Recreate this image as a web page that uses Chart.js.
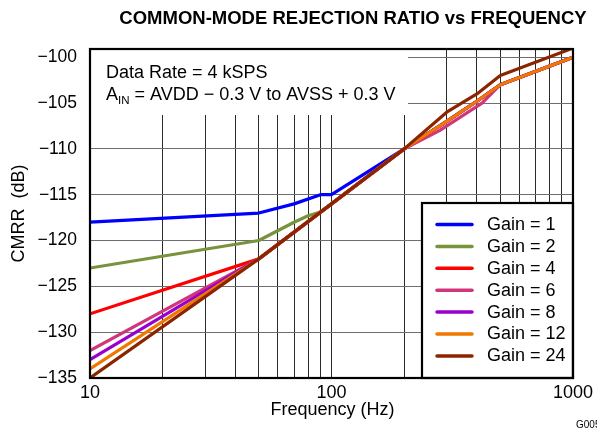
<!DOCTYPE html>
<html>
<head>
<meta charset="utf-8">
<script src="https://cdn.jsdelivr.net/npm/chart.js@4.4.1/dist/chart.umd.min.js"></script>
<style>
  html, body { margin: 0; padding: 0; background: #ffffff; }
  #wrap { position: relative; width: 597px; height: 431px; }
</style>
</head>
<body>
<div id="wrap"><canvas id="c" width="597" height="431"></canvas></div>
<script>
// ---------- data ----------
const seriesNames = ["Gain = 1", "Gain = 2", "Gain = 4", "Gain = 6", "Gain = 8", "Gain = 12", "Gain = 24"];
const seriesColors = ["#0000FF", "#77933C", "#FF0000", "#D0367A", "#9900CC", "#F07800", "#8B2500"];

const gain1Freq = [10, 50, 70, 90, 100, 200, 300, 400, 500, 1000];
const gain1Cmrr = [-118, -117, -116, -115, -115, -110, -107, -104.8, -103, -100];

const gain2Freq = [10, 50, 70, 80, 90, 100, 200, 300, 400, 500, 1000];
const gain2Cmrr = [-123, -120, -118, -117.3, -116.9, -116, -110, -107, -104.8, -103, -100];

const gain4Freq = [10, 50, 100, 200, 300, 400, 500, 1000];
const gain4Cmrr = [-128, -122, -116, -110, -107, -104.8, -103, -100];

const gain6Freq = [10, 50, 100, 200, 280, 420, 500, 1000];
const gain6Cmrr = [-132, -122, -116, -110, -108, -105, -103, -100];

const gain8Freq = [10, 50, 100, 200, 300, 400, 500, 1000];
const gain8Cmrr = [-133, -122, -116, -110, -107, -104.8, -103, -100];

const gain12Freq = [10, 50, 100, 200, 300, 400, 500, 1000];
const gain12Cmrr = [-134, -122, -116, -110, -107, -104.8, -103, -100];

const gain24Freq = [10, 50, 100, 200, 300, 400, 500, 1000];
const gain24Cmrr = [-135, -122, -116, -110, -106, -104, -102, -99];

const xTickLabels = [10, 100, 1000];
const yTickValues = [-135, -130, -125, -120, -115, -110, -105, -100];

const titleText = "COMMON-MODE REJECTION RATIO vs FREQUENCY";
const xTitleText = "Frequency (Hz)";
const yTitleText = "CMRR  (dB)";
const noteLine1 = "Data Rate = 4 kSPS";
const noteLine2a = "A";
const noteLine2sub = "IN";
const noteLine2b = " = AVDD \u2212 0.3 V to AVSS + 0.3 V";
const figureId = "G005";

// ---------- build datasets ----------
const freqs = [gain1Freq, gain2Freq, gain4Freq, gain6Freq, gain8Freq, gain12Freq, gain24Freq];
const vals  = [gain1Cmrr, gain2Cmrr, gain4Cmrr, gain6Cmrr, gain8Cmrr, gain12Cmrr, gain24Cmrr];
const drawOrder = [6, 5, 4, 3, 2, 1, 0]; // lower = drawn on top (Gain = 24 on top)

const datasets = seriesNames.map((name, i) => ({
  label: name,
  data: freqs[i].map((f, j) => ({ x: f, y: vals[i][j] })),
  borderColor: seriesColors[i],
  backgroundColor: seriesColors[i],
  borderWidth: 3.2,
  pointRadius: 0,
  tension: 0,
  fill: false,
  order: drawOrder[i],
  borderJoinStyle: 'round'
}));

// gridline frequencies for the log axis (decade subdivisions)
const xGrid = [];
for (let d = 10; d < 1000; d *= 10) for (let k = 1; k < 10; k++) xGrid.push(k * d);
xGrid.push(1000);

const FONT = "'Liberation Sans', Arial, Helvetica, sans-serif";

const decor = {
  id: 'decor',
  beforeDatasetsDraw(chart) {
    const ctx = chart.ctx;
    const a = chart.chartArea;
    ctx.save();
    ctx.fillStyle = '#ffffff';
    ctx.fillRect(a.left, a.top, 408 - a.left, 115 - a.top);
    ctx.fillRect(422, 203, a.right - 422, a.bottom - 203);
    ctx.restore();
  },
  afterDraw(chart) {
    const ctx = chart.ctx;
    const a = chart.chartArea;
    ctx.save();
    ctx.strokeStyle = '#000000';
    ctx.lineWidth = 2.2;
    ctx.strokeRect(a.left, a.top, a.right - a.left, a.bottom - a.top);

    ctx.fillStyle = '#000000';
    ctx.font = "bold 18.5px " + FONT;
    ctx.textAlign = 'center';
    ctx.textBaseline = 'alphabetic';
    ctx.fillText(titleText, 353, 24);

    ctx.font = "18px " + FONT;
    ctx.fillText(xTitleText, 332.5, 415);
    ctx.save();
    ctx.translate(24, 213.5);
    ctx.rotate(-Math.PI / 2);
    ctx.fillText(yTitleText, 0, 0);
    ctx.restore();

    ctx.textAlign = 'left';
    ctx.font = "18px " + FONT;
    ctx.fillText(noteLine1, 106, 78);
    ctx.fillText(noteLine2a, 106, 100);
    const wA = ctx.measureText(noteLine2a).width;
    ctx.font = "11.5px " + FONT;
    ctx.fillText(noteLine2sub, 106 + wA, 104);
    const wS = ctx.measureText(noteLine2sub).width;
    ctx.font = "18px " + FONT;
    ctx.fillText(noteLine2b, 106 + wA + wS, 100);

    ctx.strokeStyle = '#000000';
    ctx.lineWidth = 2.2;
    ctx.strokeRect(422, 203, a.right - 422, a.bottom - 203);
    ctx.textBaseline = 'middle';
    ctx.font = "18px " + FONT;
    seriesNames.forEach((name, i) => {
      const y = 224.5 + i * 21.9;
      ctx.strokeStyle = seriesColors[i];
      ctx.lineWidth = 3.5;
      ctx.lineCap = 'round';
      ctx.beginPath();
      ctx.moveTo(437, y);
      ctx.lineTo(472, y);
      ctx.stroke();
      ctx.fillStyle = '#000000';
      ctx.fillText(name, 487, y + 0.5);
    });

    ctx.font = "10px " + FONT;
    ctx.textBaseline = 'alphabetic';
    ctx.fillText(figureId, 576, 428);
    ctx.restore();
  }
};

new Chart(document.getElementById('c'), {
  type: 'line',
  data: { datasets },
  options: {
    responsive: false,
    animation: false,
    events: [],
    layout: { padding: { left: 0, top: 49, right: 22, bottom: 0 } },
    plugins: { legend: { display: false }, title: { display: false }, tooltip: { enabled: false } },
    scales: {
      x: {
        type: 'logarithmic',
        min: 10,
        max: 1000,
        afterFit: s => { s.height = 53; },
        afterBuildTicks: s => { s.ticks = xGrid.map(v => ({ value: v })); },
        border: { display: false },
        grid: { color: '#2a2a2a', lineWidth: 1, drawTicks: false },
        ticks: {
          autoSkip: false,
          maxRotation: 0,
          minRotation: 0,
          padding: 4,
          color: '#000000',
          font: { family: FONT, size: 18 },
          callback: v => xTickLabels.includes(v) ? String(v) : ''
        }
      },
      y: {
        type: 'linear',
        min: -135,
        max: -99.1,
        afterFit: s => { s.width = 90; },
        afterBuildTicks: s => { s.ticks = yTickValues.map(v => ({ value: v })); },
        border: { display: false },
        grid: { color: '#6e6e6e', lineWidth: 1, drawTicks: false },
        ticks: {
          padding: 13,
          color: '#000000',
          font: { family: FONT, size: 17.5 },
          callback: v => (v < 0 ? '\u2212' : '') + Math.abs(v)
        }
      }
    }
  },
  plugins: [decor]
});
</script>
</body>
</html>
